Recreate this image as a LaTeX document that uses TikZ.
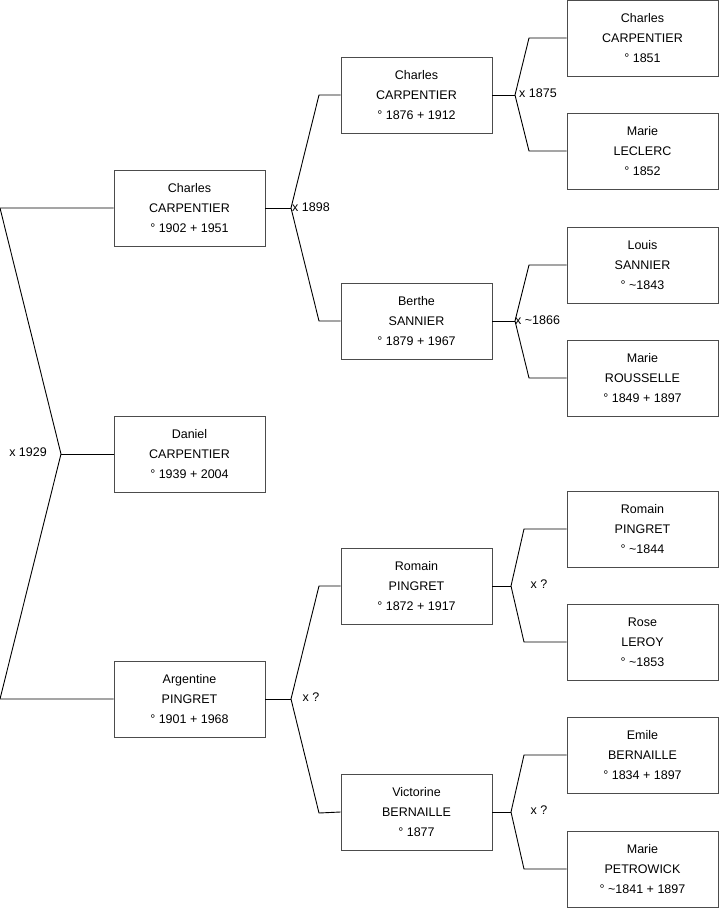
\documentclass[tikz,border=0pt]{standalone}
\usepackage{fontspec}
\setmainfont{Liberation Sans}
\usepackage{tikz}
\usetikzlibrary{positioning}

\begin{document}
\begin{tikzpicture}[x=1pt, y=-1pt]
    % Styles
    \tikzstyle{person} = [rectangle, draw=black!70, line width=0.9pt, fill=white, align=center, minimum width=151pt, minimum height=76pt, inner sep=0pt, font=\fontsize{12.5}{20}\selectfont]
    \tikzstyle{link} = [line width=0.9pt, black]
    \tikzstyle{union} = [inner sep=0pt, font=\fontsize{12.5}{15}\selectfont]

    \useasboundingbox (0,0) rectangle (719,908);

    % Nodes
    \node [person] (dan) at (189.5,454) {Daniel\\CARPENTIER\\° 1939 + 2004};
    \node [person] (fa) at (189.5,208) {Charles\\CARPENTIER\\° 1902 + 1951};
    \node [person] (mo) at (189.5,699) {Argentine\\PINGRET\\° 1901 + 1968};

    \node [person] (ff) at (416.5,95) {Charles\\CARPENTIER\\° 1876 + 1912};
    \node [person] (fm) at (416.5,321) {Berthe\\SANNIER\\° 1879 + 1967};
    \node [person] (mf) at (416.5,586) {Romain\\PINGRET\\° 1872 + 1917};
    \node [person] (mm) at (416.5,812) {Victorine\\BERNAILLE\\° 1877};

    \node [person] (fff) at (642.5,38) {Charles\\CARPENTIER\\° 1851};
    \node [person] (ffm) at (642.5,151) {Marie\\LECLERC\\° 1852};
    \node [person] (fmf) at (642.5,265) {Louis\\SANNIER\\° \textasciitilde1843};
    \node [person] (fmm) at (642.5,378) {Marie\\ROUSSELLE\\° 1849 + 1897};
    \node [person] (mff) at (642.5,529) {Romain\\PINGRET\\° \textasciitilde1844};
    \node [person] (mfm) at (642.5,642) {Rose\\LEROY\\° \textasciitilde1853};
    \node [person] (mmf) at (642.5,755) {Emile\\BERNAILLE\\° 1834 + 1897};
    \node [person] (mmm) at (642.5,869) {Marie\\PETROWICK\\° \textasciitilde1841 + 1897};

    % Junctions
    \coordinate (j0) at (61,454);
    \coordinate (j0a) at (0,208);
    \coordinate (j0b) at (0,699);
    \coordinate (jf) at (291,208);
    \coordinate (jfa) at (319,95);
    \coordinate (jfb) at (319,321);
    \coordinate (jm) at (291,699);
    \coordinate (jma) at (319,586);
    \coordinate (jmb) at (319,813);
    \coordinate (jff) at (515,95);
    \coordinate (jffa) at (529,38);
    \coordinate (jffb) at (529,151);
    \coordinate (jfm) at (515,321);
    \coordinate (jfma) at (529,265);
    \coordinate (jfmb) at (529,378);
    \coordinate (jmf) at (511,586);
    \coordinate (jmfa) at (524,529);
    \coordinate (jmfb) at (524,642);
    \coordinate (jmm) at (511,812);
    \coordinate (jmma) at (524,755);
    \coordinate (jmmb) at (524,869);

    % Lines
    \draw [link] (fa.west) -- (j0a) -- (j0) -- (j0b) -- (mo.west);
    \draw [link] (j0) -- (dan.west);
    \draw [link] (fa.east) -- (jf);
    \draw [link] (ff.west) -- (jfa) -- (jf) -- (jfb) -- (fm.west);
    \draw [link] (mo.east) -- (jm);
    \draw [link] (mf.west) -- (jma) -- (jm) -- (jmb) -- (mm.west);
    \draw [link] (ff.east) -- (jff);
    \draw [link] (fff.west) -- (jffa) -- (jff) -- (jffb) -- (ffm.west);
    \draw [link] (fm.east) -- (jfm);
    \draw [link] (fmf.west) -- (jfma) -- (jfm) -- (jfmb) -- (fmm.west);
    \draw [link] (mf.east) -- (jmf);
    \draw [link] (mff.west) -- (jmfa) -- (jmf) -- (jmfb) -- (mfm.west);
    \draw [link] (mm.east) -- (jmm);
    \draw [link] (mmf.west) -- (jmma) -- (jmm) -- (jmmb) -- (mmm.west);

    % Marriages
    \node [union, anchor=east] (u0) at (47,452) {x 1929};
    \node [union, anchor=west] (uf) at (292,207) {x 1898};
    \node [union, anchor=west] (uff) at (519,93) {x 1875};
    \node [union, anchor=west] (ufm) at (515,320) {x \textasciitilde1866};
    \node [union] (um) at (311,697) {x ?};
    \node [union] (umf) at (539,584) {x ?};
    \node [union] (umm) at (539,810) {x ?};
\end{tikzpicture}
\end{document}
